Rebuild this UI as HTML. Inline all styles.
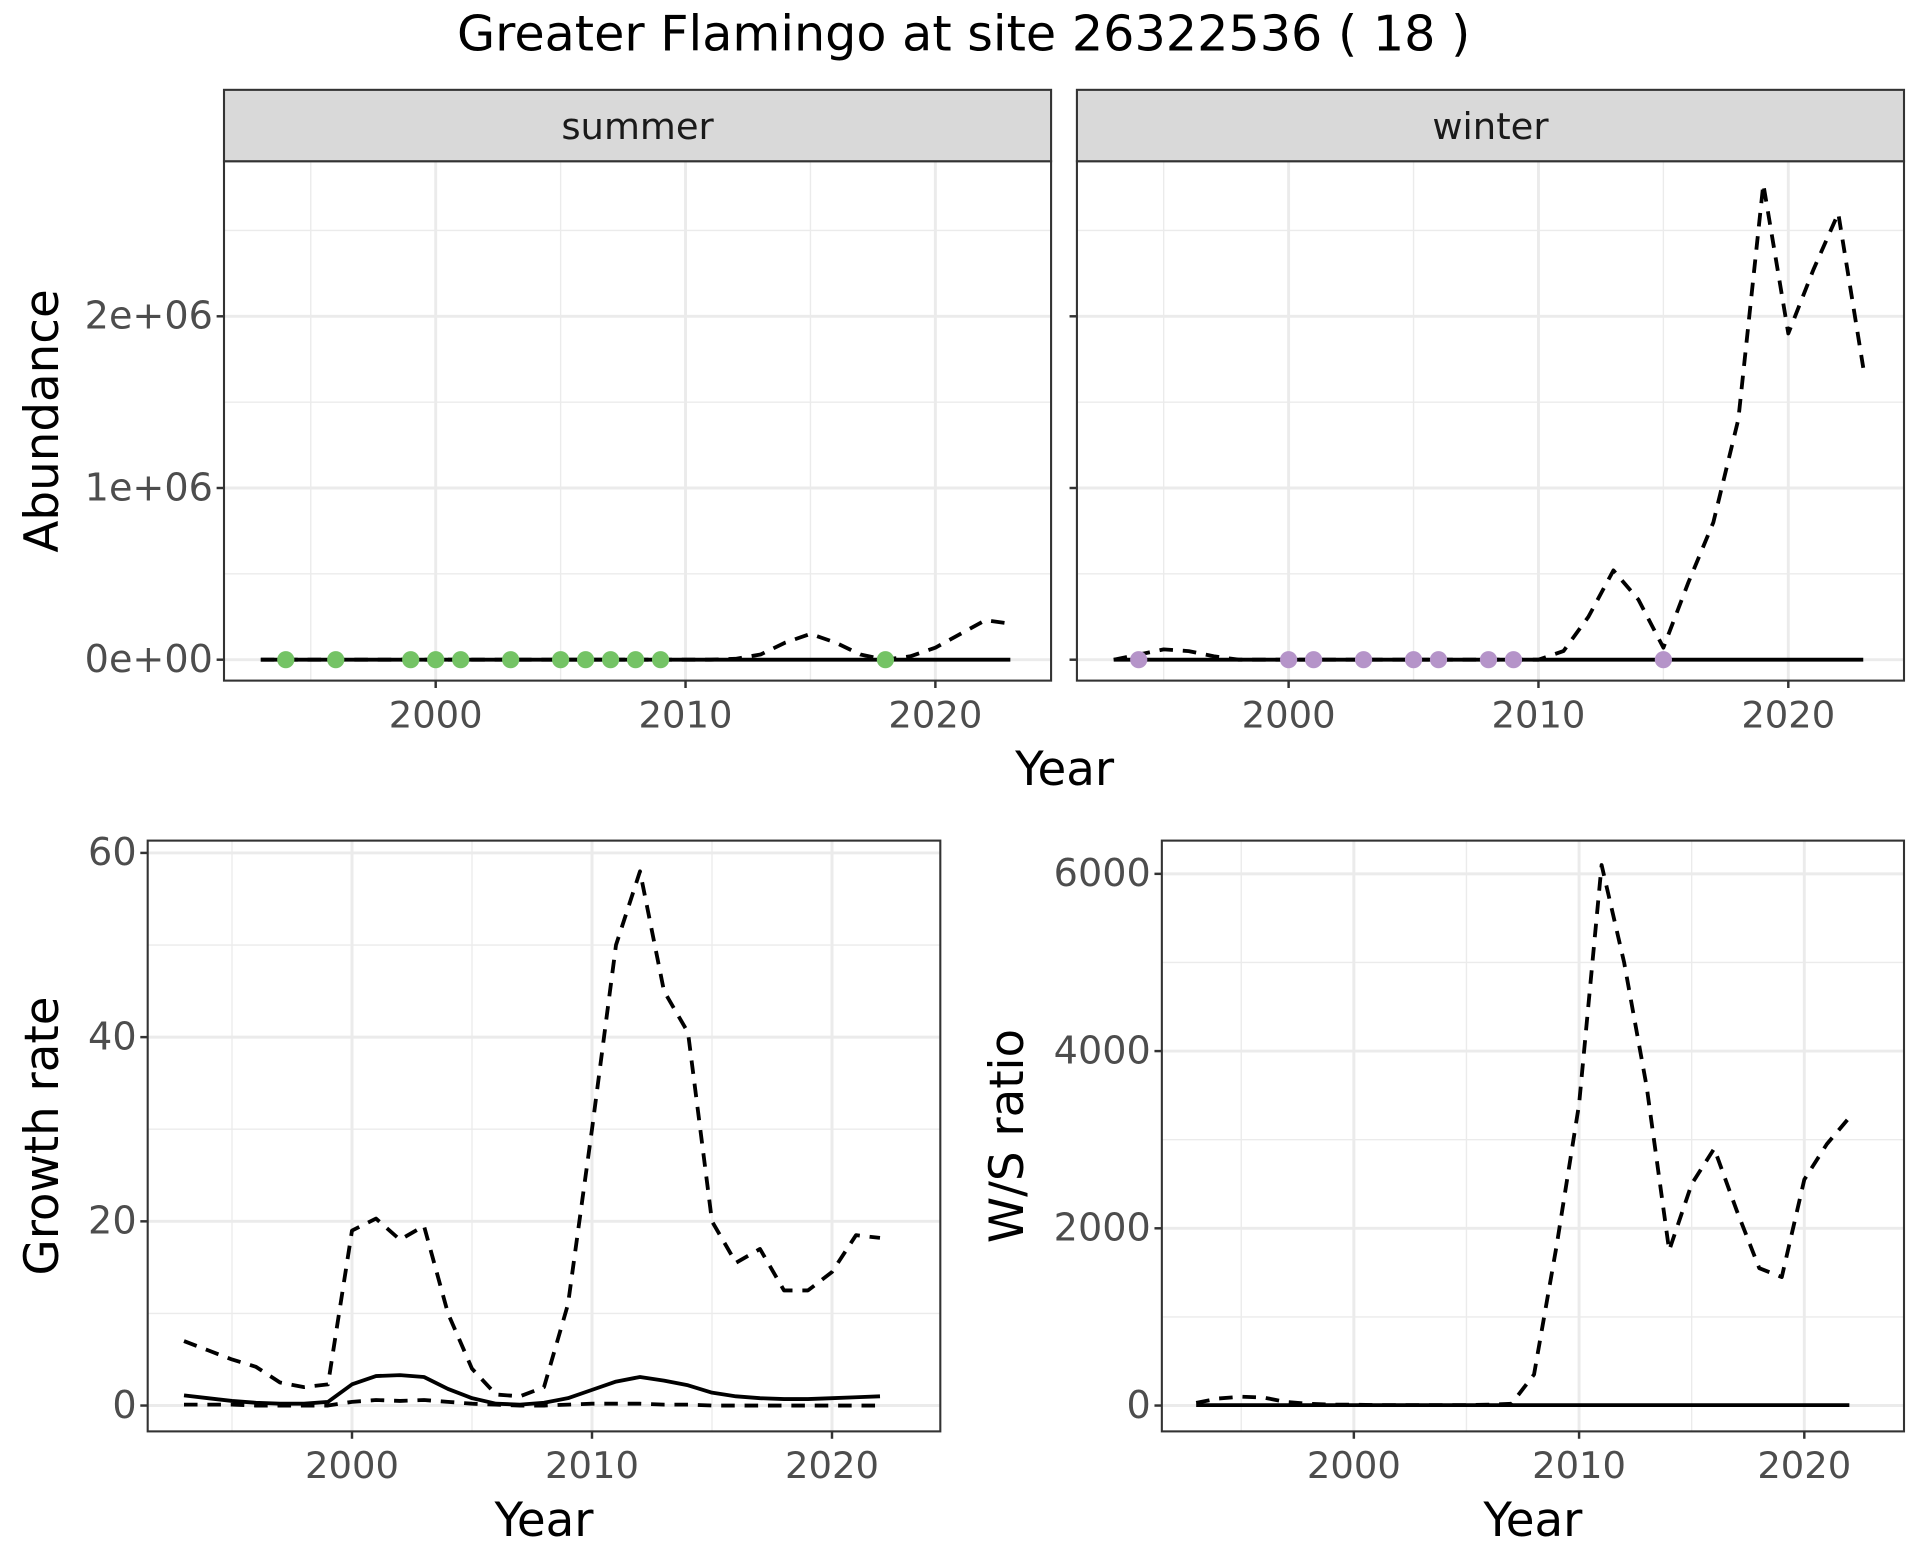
<!DOCTYPE html>
<html><head><meta charset="utf-8"><style>
html,body{margin:0;padding:0;background:#fff;}
svg{display:block;font-family:"DejaVu Sans","Liberation Sans",sans-serif;}
</style></head><body>
<svg id="chart" width="1920" height="1560" viewBox="0 0 1560 1267.5">
<text x="783" y="41" font-size="40" text-anchor="middle" fill="#000">Greater Flamingo at site 26322536 ( 18 )</text>
</svg>
<script>
// ---- data ----
const years = [1993,1994,1995,1996,1997,1998,1999,2000,2001,2002,2003,2004,2005,2006,2007,2008,2009,2010,2011,2012,2013,2014,2015,2016,2017,2018,2019,2020,2021,2022,2023];
const summerModel = years.map(()=>0);
const summerUpper = [0,0,0,0,0,0,0,0,0,0,0,0,0,0,0,0,0,0,0,5000,30000,100000,150000,100000,30000,0,20000,70000,150000,230000,210000];
const summerObsYears = [1994,1996,1999,2000,2001,2003,2005,2006,2007,2008,2009,2018];
const summerObs = [0,0,0,0,0,0,0,0,0,0,0,0];
const winterModel = years.map(()=>0);
const winterUpper = [0,30000,60000,50000,20000,0,0,0,0,0,0,0,0,0,0,0,0,0,50000,250000,520000,350000,70000,450000,800000,1400000,2770000,1900000,2270000,2600000,1700000];
const winterObsYears = [1994,2000,2001,2003,2005,2006,2008,2009,2015];
const winterObs = [0,0,0,0,0,0,0,0,0];
const gYears = years.slice(0,30);
const growthUpper = [7,6,5,4.2,2.5,2,2.3,19,20.3,18,19.5,10,4,1.2,1,2,11,30,50,58,45,40.5,20,15.5,17,12.5,12.5,14.5,18.5,18.2];
const growthMid = [1.1,0.8,0.5,0.3,0.2,0.2,0.4,2.3,3.2,3.3,3.1,1.8,0.8,0.2,0.1,0.3,0.8,1.7,2.6,3.1,2.7,2.2,1.4,1,0.8,0.7,0.7,0.8,0.9,1.0];
const growthLower = [0.1,0.1,0.1,0,0,0,0,0.4,0.6,0.5,0.6,0.4,0.2,0.1,0,0,0.1,0.2,0.2,0.2,0.1,0.1,0,0,0,0,0,0,0,0];
const ratioUpper = [30,80,100,90,40,20,10,10,5,5,5,5,5,10,20,350,1800,3400,6100,5000,3600,1750,2500,2900,2200,1550,1450,2550,2950,3250];
const ratioMid = gYears.map(()=>5);
const xTicks = [2000,2010,2020];
const abTicks = [0,1000000,2000000];
const abLabels = ["0e+00","1e+06","2e+06"];
const gTicks = [0,20,40,60];
const rTicks = [0,2000,4000,6000];

const svg = document.getElementById('chart');
const NS = 'http://www.w3.org/2000/svg';
function mk(tag, attrs, parent){const e=document.createElementNS(NS,tag);for(const k in attrs)e.setAttribute(k,attrs[k]);(parent||svg).appendChild(e);return e;}
function lin(d0,d1,r0,r1){return v=>r0+(v-d0)*(r1-r0)/(d1-d0);}

function panel(o){
  const g=mk('g',{});
  
  
  const {x0,x1,y0,y1,sx,sy}=o;
  mk('rect',{x:x0,y:y0,width:x1-x0,height:y1-y0,fill:'#fff'},g);
  o.xMinor.forEach(v=>mk('line',{x1:sx(v),x2:sx(v),y1:y0,y2:y1,stroke:'#ebebeb','stroke-width':1.1},g));
  o.yMinor.forEach(v=>mk('line',{x1:x0,x2:x1,y1:sy(v),y2:sy(v),stroke:'#ebebeb','stroke-width':1.1},g));
  xTicks.forEach(v=>mk('line',{x1:sx(v),x2:sx(v),y1:y0,y2:y1,stroke:'#ebebeb','stroke-width':2.4},g));
  o.yTicks.forEach(v=>mk('line',{x1:x0,x2:x1,y1:sy(v),y2:sy(v),stroke:'#ebebeb','stroke-width':2.4},g));
  o.series.forEach(s=>{
    const p=mk('polyline',{points:s.x.map((xv,i)=>sx(xv)+','+sy(s.y[i])).join(' '),fill:'none',stroke:'#000','stroke-width':3.1,'stroke-dasharray':s.dash?'11,8':'none','stroke-linejoin':'round'},g);
    
    
  });
  if(o.pts){o.pts.x.forEach((xv,i)=>{
    const c=mk('circle',{cx:sx(xv),cy:sy(o.pts.y[i]),r:7,fill:o.pts.color},g);
    
    
  });}
  mk('rect',{x:x0,y:y0,width:x1-x0,height:y1-y0,fill:'none',stroke:'#333','stroke-width':1.7},g);
  xTicks.forEach(v=>{mk('line',{x1:sx(v),x2:sx(v),y1:y1,y2:y1+6,stroke:'#333','stroke-width':2},g);
    const t=mk('text',{x:sx(v),y:y1+38,'font-size':30,'text-anchor':'middle',fill:'#4d4d4d'},g);t.textContent=v;
    
    });
  if(o.yLabels){o.yTicks.forEach((v,i)=>{mk('line',{x1:x0-6,x2:x0,y1:sy(v),y2:sy(v),stroke:'#333','stroke-width':2},g);
    const t=mk('text',{x:x0-9,y:sy(v)+10,'font-size':31,'text-anchor':'end',fill:'#4d4d4d'},g);t.textContent=o.yLabels[i];
    
    });}
  else {o.yTicks.forEach(v=>mk('line',{x1:x0-6,x2:x0,y1:sy(v),y2:sy(v),stroke:'#333','stroke-width':2},g));}
  if(o.strip){mk('rect',{x:x0,y:y0-58,width:x1-x0,height:58,fill:'#d9d9d9',stroke:'#333','stroke-width':1.7},g);
    const t=mk('text',{x:(x0+x1)/2,y:y0-18,'font-size':30,'text-anchor':'middle',fill:'#1a1a1a'},g);t.textContent=o.strip;
    
    }
  if(o.xTitle){const t=mk('text',{x:(x0+x1)/2,y:o.xTitleY,'font-size':38,'text-anchor':'middle'},g);t.textContent=o.xTitle;
    
    }
  if(o.yTitle){const cy=(y0+y1)/2;const t=mk('text',{x:o.yTitleX,y:cy,'font-size':38,'text-anchor':'middle',transform:`rotate(-90 ${o.yTitleX} ${cy})`},g);t.textContent=o.yTitle;
    
    }
}
const abY = lin(0,1000000,536,396.5);
const abMinor=[500000,1500000,2500000];
panel({name:'summer-panel',x0:182,x1:854,y0:131,y1:553,sx:lin(2000,2010,354,557),sy:abY,xMinor:[1995,2005,2015],yMinor:abMinor,yTicks:abTicks,yLabels:abLabels,strip:'summer',yTitle:'Abundance',yTitleX:47,
  series:[{name:'summer-upper-line',x:years,y:summerUpper,dash:true},{name:'summer-model-line',x:years,y:summerModel}],
  pts:{x:summerObsYears,y:summerObs,color:'#74c365'}});
panel({name:'winter-panel',x0:875,x1:1547,y0:131,y1:553,sx:lin(2000,2010,1047,1250),sy:abY,xMinor:[1995,2005,2015],yMinor:abMinor,yTicks:abTicks,strip:'winter',
  series:[{name:'winter-upper-line',x:years,y:winterUpper,dash:true},{name:'winter-model-line',x:years,y:winterModel}],
  pts:{x:winterObsYears,y:winterObs,color:'#b594c9'}});
const yt=mk('text',{x:865,y:638,'font-size':38,'text-anchor':'middle'});yt.textContent='Year';


panel({name:'growth-rate-panel',x0:120,x1:764,y0:683,y1:1163,sx:lin(2000,2010,286,481),sy:lin(0,60,1142,693),xMinor:[1995,2005,2015],yMinor:[10,30,50],yTicks:gTicks,yLabels:gTicks.map(String),xTitle:'Year',xTitleY:1248,yTitle:'Growth rate',yTitleX:47,
  series:[{name:'growth-upper-line',x:gYears,y:growthUpper,dash:true},{name:'growth-lower-line',x:gYears,y:growthLower,dash:true},{name:'growth-mid-line',x:gYears,y:growthMid}]});
panel({name:'ws-ratio-panel',x0:944,x1:1547,y0:683,y1:1163,sx:lin(2000,2010,1100,1283),sy:lin(0,2000,1142,998),xMinor:[1995,2005,2015],yMinor:[1000,3000,5000],yTicks:rTicks,yLabels:rTicks.map(String),xTitle:'Year',xTitleY:1248,yTitle:'W/S ratio',yTitleX:831,
  series:[{name:'ratio-upper-line',x:gYears,y:ratioUpper,dash:true},{name:'ratio-mid-line',x:gYears,y:ratioMid}]});
</script>
</body></html>
